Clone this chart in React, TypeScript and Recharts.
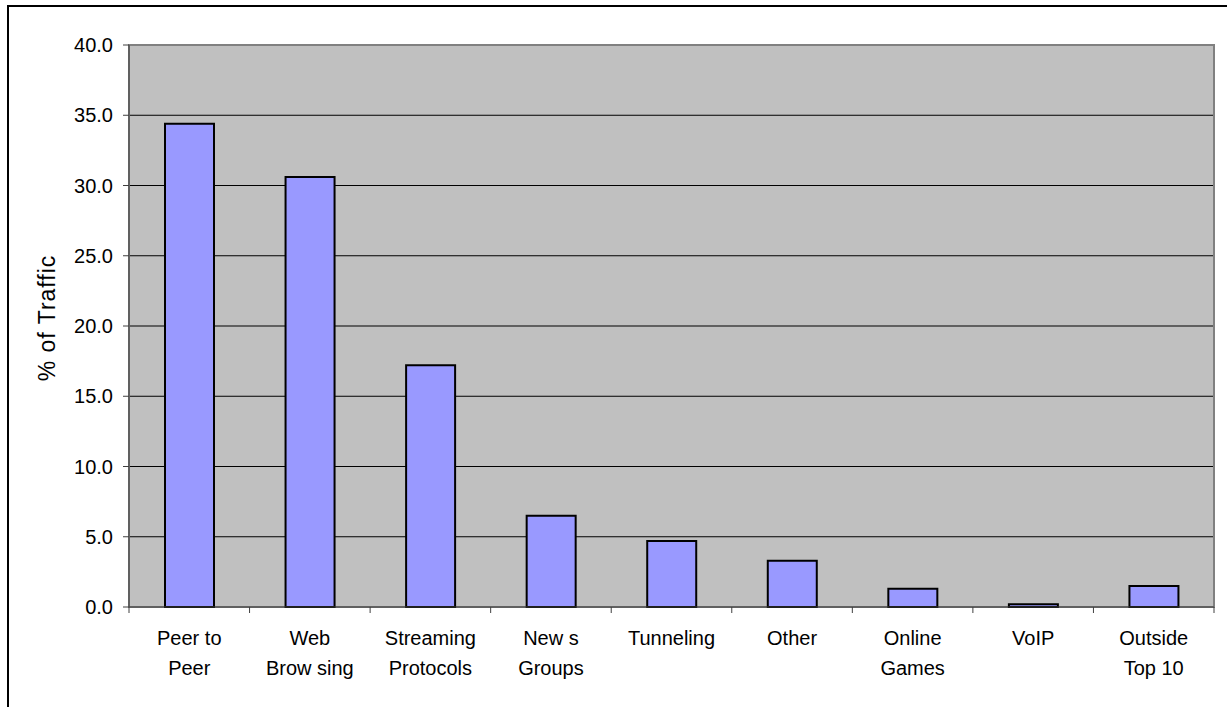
import React from "react";
import {
  BarChart, Bar, XAxis, YAxis, CartesianGrid, ReferenceArea,
} from "recharts";

const CATEGORIES = [
  "Peer to\nPeer",
  "Web\nBrow sing",
  "Streaming\nProtocols",
  "New s\nGroups",
  "Tunneling",
  "Other",
  "Online\nGames",
  "VoIP",
  "Outside\nTop 10",
];
const TRAFFIC = [34.4, 30.6, 17.2, 6.5, 4.7, 3.3, 1.3, 0.2, 1.5];
const Y_TICKS = [0, 5, 10, 15, 20, 25, 30, 35, 40];

const data = CATEGORIES.map((name, i) => ({ name, traffic: TRAFFIC[i] }));

const W = 1227;
const H = 707;
const Y_AXIS_W = 129;
const MARGIN = { top: 45, right: 13, bottom: 0, left: 0 };
const BAND = (W - Y_AXIS_W - MARGIN.right - MARGIN.left) / CATEGORIES.length;
const FONT = "'Liberation Sans', Arial, sans-serif";
const AXIS_COLOR = "#404040";

function CategoryTick({ x, y, payload, index }: any) {
  const lines = String(payload.value).split("\n");
  const half = BAND / 2;
  return (
    <g>
      <line x1={x - half} y1={y} x2={x - half} y2={y + 6} stroke={AXIS_COLOR} />
      {index === CATEGORIES.length - 1 && (
        <line x1={x + half} y1={y} x2={x + half} y2={y + 6} stroke={AXIS_COLOR} />
      )}
      <text x={x} y={y + 38} textAnchor="middle" fontSize={20} fontFamily={FONT} fill="#000">
        {lines.map((l, i) => (
          <tspan key={i} x={x} dy={i === 0 ? 0 : 30}>{l}</tspan>
        ))}
      </text>
    </g>
  );
}

function YTitle() {
  return (
    <text
      x={55}
      y={318}
      transform="rotate(-90 55 318)"
      textAnchor="middle"
      fontSize={23}
      letterSpacing={1}
      fontFamily={FONT}
      fill="#000"
    >
      % of Traffic
    </text>
  );
}

export default function App() {
  return (
    <div
      style={{
        position: "fixed", left: 0, top: 0, width: W, height: H,
        overflow: "hidden", background: "#fff",
      }}
    >
      <div
        style={{
          position: "absolute", left: 7, top: 5, width: W, height: H,
          borderLeft: "2px solid #000", borderTop: "2px solid #000",
        }}
      />
      <div style={{ position: "absolute", left: 0, top: 0 }}>
        <BarChart width={W} height={H} data={data} margin={MARGIN}>
          <CartesianGrid vertical={false} stroke="#000" fill="#C0C0C0" fillOpacity={1} />
          <ReferenceArea
            x1={CATEGORIES[0]}
            x2={CATEGORIES[CATEGORIES.length - 1]}
            y1={0}
            y2={40}
            fill="none"
            stroke="#808080"
            strokeWidth={2}
          />
          <XAxis
            dataKey="name"
            height={100}
            interval={0}
            tickLine={false}
            tickSize={0}
            tickMargin={0}
            stroke={AXIS_COLOR}
            tick={<CategoryTick />}
          />
          <YAxis
            width={Y_AXIS_W}
            domain={[0, 40]}
            ticks={Y_TICKS}
            interval={0}
            tickSize={6}
            tickMargin={10}
            stroke={AXIS_COLOR}
            tickFormatter={(v: number) => v.toFixed(1)}
            tick={{ fontSize: 20, fill: "#000", fontFamily: FONT }}
            label={<YTitle />}
          />
          <Bar
            dataKey="traffic"
            fill="#9999FF"
            stroke="#000"
            strokeWidth={2}
            barSize={49}
            isAnimationActive={false}
          />
        </BarChart>
      </div>
    </div>
  );
}
